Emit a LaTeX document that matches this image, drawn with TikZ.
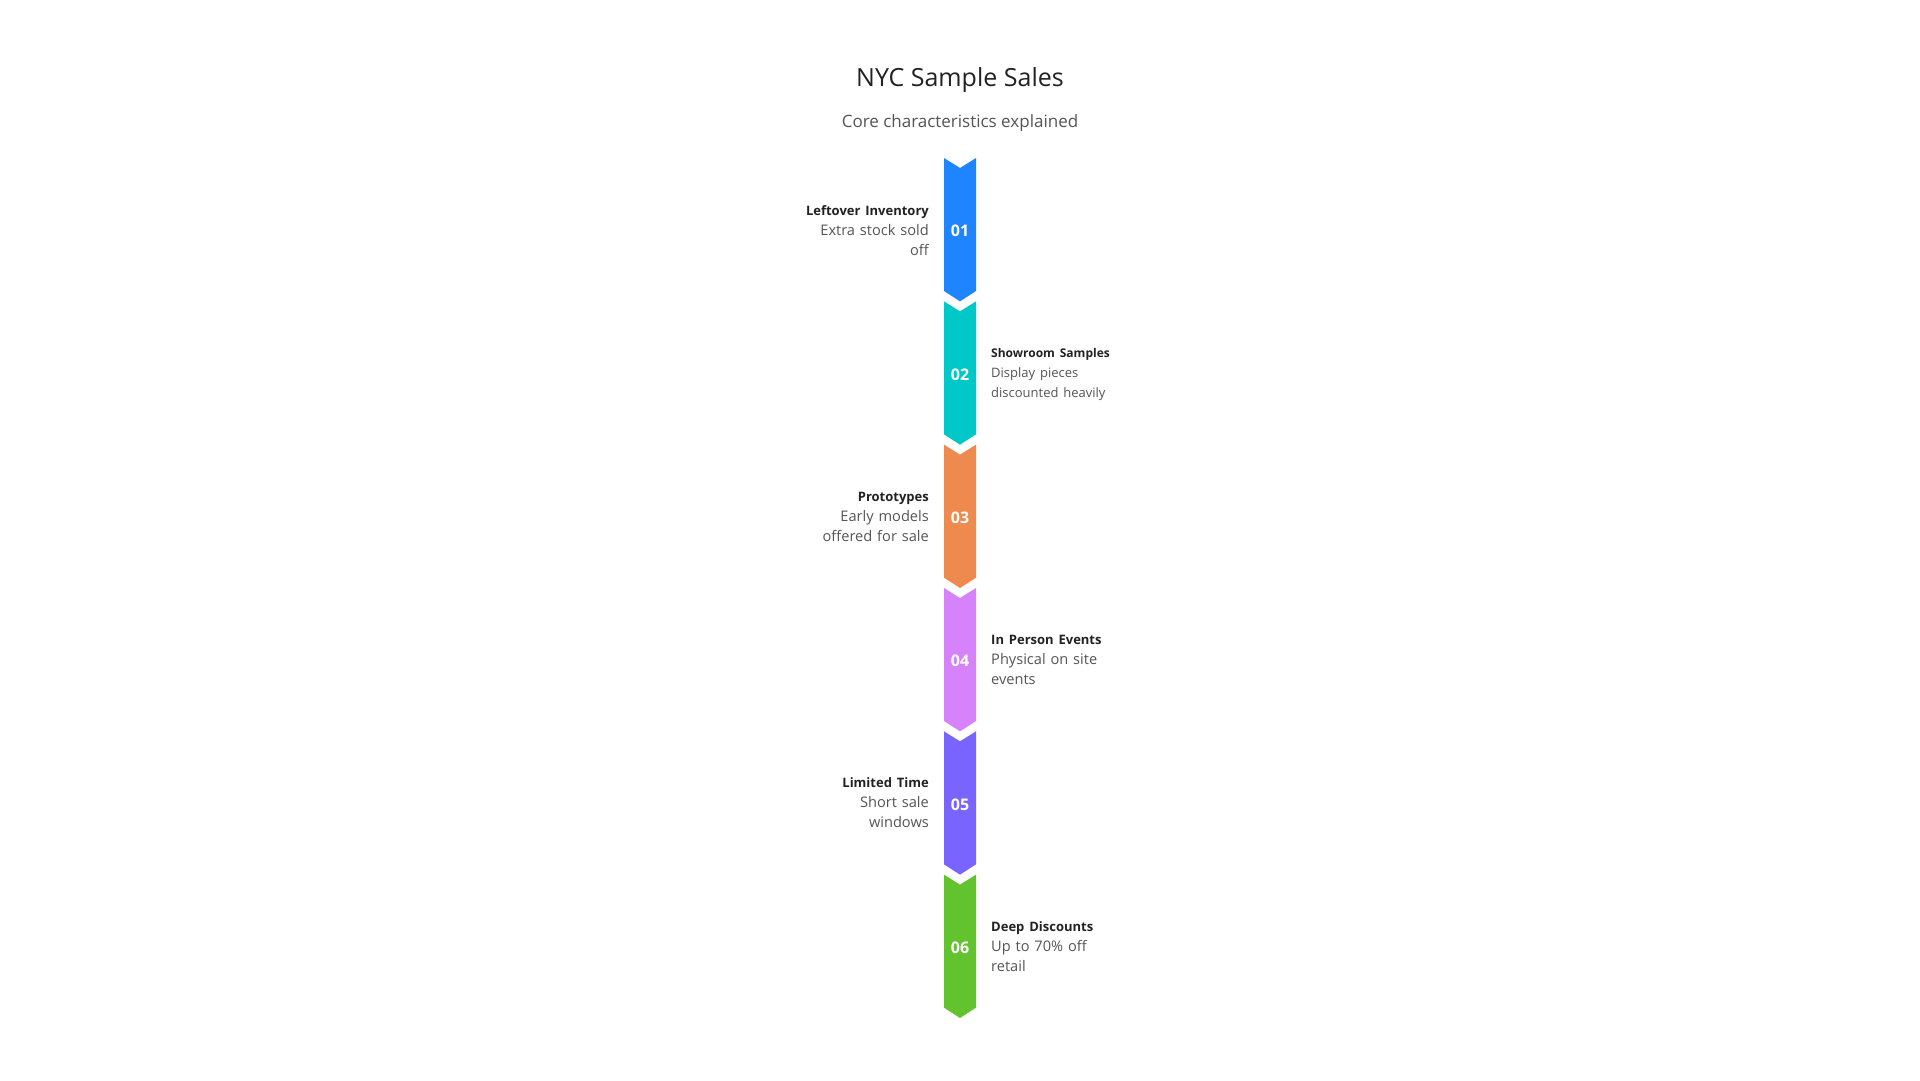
\documentclass[tikz,border=0pt]{standalone}
\usepackage{fontspec}
\setmainfont{Open Sans}
\definecolor{c1}{HTML}{1E84FF}
\definecolor{c2}{HTML}{00C8C8}
\definecolor{c3}{HTML}{EF8A4E}
\definecolor{c4}{HTML}{D682FB}
\definecolor{c5}{HTML}{7A64FF}
\definecolor{c6}{HTML}{62C32E}
\definecolor{dark}{HTML}{222222}
\definecolor{mid}{HTML}{555555}
\tikzset{
  maintitle/.style={anchor=base, inner sep=0pt, text=dark, font=\fontsize{25}{28}\selectfont},
  subtitle/.style={anchor=base, inner sep=0pt, text=mid, font=\fontsize{17}{20}\selectfont},
  numlabel/.style={inner sep=0pt, text=white, font=\fontsize{16}{18}\selectfont\bfseries},
  leftlabel/.style={anchor=base east, inner sep=0pt, text width=160pt, align=right, text=mid, font=\fontsize{14.6}{20}\selectfont},
  rightlabel/.style={anchor=base west, inner sep=0pt, text width=160pt, align=left, text=mid, font=\fontsize{14.6}{20}\selectfont},
}
\newcommand{\hd}[1]{{\fontsize{13}{20}\selectfont\bfseries\color{dark}#1}}
\begin{document}
\begin{tikzpicture}[x=1pt,y=-1pt]
\useasboundingbox (0,0) rectangle (1920,1080);
\fill[white] (0,0) rectangle (1920,1080);
\node[maintitle] (title) at (960,86) {NYC Sample Sales};
\node[subtitle] (sub) at (960,127) {Core characteristics explained};
\foreach \i/\col in {1/c1,2/c2,3/c3,4/c4,5/c5,6/c6}{
  \pgfmathsetmacro{\yt}{158+(\i-1)*143.33}
  \fill[\col] (944,\yt) -- (960,\yt+10) -- (976,\yt) -- (976,\yt+133) -- (960,\yt+143.33) -- (944,\yt+133) -- cycle;
  \node[numlabel] (n\i) at (960,\yt+73) {0\i};
}
\node[leftlabel] (l1) at (929,215) {\hd{Leftover Inventory}\\Extra stock sold\\off};
\node[rightlabel] (l2) at (991,357) {{\fontsize{12}{17}\selectfont\bfseries\color{dark}Showroom Samples}\\[3pt]\fontsize{13}{17}\selectfont Display pieces\\discounted heavily};
\node[leftlabel] (l3) at (929,501) {\hd{Prototypes}\\Early models\\offered for sale};
\node[rightlabel] (l4) at (991,644) {\hd{In Person Events}\\Physical on site\\events};
\node[leftlabel] (l5) at (929,787) {\hd{Limited Time}\\Short sale\\windows};
\node[rightlabel] (l6) at (991,931) {\hd{Deep Discounts}\\Up to 70\% off\\retail};
\end{tikzpicture}
\end{document}
